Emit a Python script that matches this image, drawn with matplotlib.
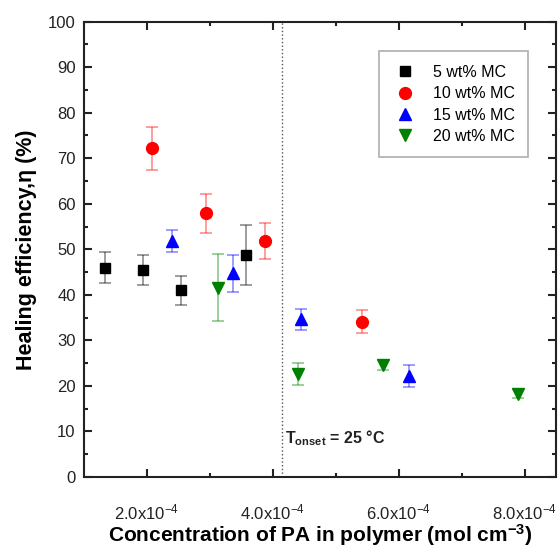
import matplotlib
matplotlib.use("Agg")
import matplotlib.pyplot as plt
from matplotlib.ticker import MultipleLocator, FixedLocator

plt.rcParams["font.family"] = ["Liberation Sans", "DejaVu Sans"]
plt.rcParams["mathtext.fontset"] = "custom"
plt.rcParams["mathtext.rm"] = "Liberation Sans"
plt.rcParams["mathtext.it"] = "Liberation Sans:italic"
plt.rcParams["mathtext.bf"] = "Liberation Sans:bold"

# data (concentration in mol cm^-3, healing efficiency in %)
x_5 = [1.33e-4, 1.94e-4, 2.54e-4, 3.57e-4]
y_5 = [46.0, 45.4, 41.0, 48.7]
e_5 = [3.5, 3.3, 3.2, 6.6]

x_10 = [2.08e-4, 2.94e-4, 3.87e-4, 5.41e-4]
y_10 = [72.2, 57.9, 51.8, 34.1]
e_10 = [4.7, 4.3, 3.9, 2.5]

x_15 = [2.40e-4, 3.37e-4, 4.44e-4, 6.17e-4]
y_15 = [51.8, 44.7, 34.6, 22.2]
e_15 = [2.5, 4.0, 2.4, 2.4]

x_20 = [3.13e-4, 4.40e-4, 5.75e-4, 7.90e-4]
y_20 = [41.6, 22.7, 24.6, 18.3]
e_20 = [7.4, 2.4, 1.0, 1.0]

t_onset = 4.14e-4
xtick_vals = [2e-4, 4e-4, 6e-4, 8e-4]
xtick_labels = [r"2.0x10$^{-4}$", r"4.0x10$^{-4}$", r"6.0x10$^{-4}$", r"8.0x10$^{-4}$"]

fig = plt.figure(figsize=(5.58, 5.49), dpi=100)
ax = fig.add_axes([0.1505, 0.1311, 0.846, 0.8296])

series = [
    (x_5, y_5, e_5, "s", "black", 7.5, "5 wt% MC"),
    (x_10, y_10, e_10, "o", "red", 8.5, "10 wt% MC"),
    (x_15, y_15, e_15, "^", "blue", 8.5, "15 wt% MC"),
    (x_20, y_20, e_20, "v", "green", 8.5, "20 wt% MC"),
]
for xs, ys, es, mk, col, ms, lab in series:
    ax.errorbar(xs, ys, yerr=es, fmt="none", ecolor=col, alpha=0.45,
                elinewidth=1.2, capsize=4, capthick=1.2)
    ax.plot(xs, ys, linestyle="none", marker=mk, color=col, markersize=ms, label=lab)

ax.axvline(t_onset, color="#555555", linestyle=":", linewidth=1.0)
ax.text(t_onset + 0.05e-4, 8.6, r"T$_{\mathbf{onset}}$ = 25 °C", fontsize=11.5,
        fontweight="bold", va="center", ha="left", color="#222222")

ax.set_xlim(1e-4, 8.5e-4)
ax.set_ylim(0, 100)
ax.xaxis.set_major_locator(FixedLocator(xtick_vals))
ax.set_xticklabels(xtick_labels)
ax.xaxis.set_minor_locator(FixedLocator([3e-4, 5e-4, 7e-4]))
ax.yaxis.set_major_locator(MultipleLocator(10))
ax.yaxis.set_minor_locator(MultipleLocator(5))

ax.tick_params(which="both", direction="in", top=True, right=True, width=1.5,
               labelsize=12, colors="#222222")
ax.tick_params(which="major", length=6)
ax.tick_params(which="minor", length=3)
ax.tick_params(axis="x", pad=18)
ax.tick_params(axis="y", pad=6)
for s in ax.spines.values():
    s.set_linewidth(1.5)
    s.set_color("#222222")

ax.set_xlabel(r"Concentration of PA in polymer (mol cm$^{\mathbf{-3}}$)", fontsize=15,
              fontweight="bold", va="baseline")
ax.xaxis.set_label_coords(0.5, -0.142)
ax.set_ylabel("Healing efficiency,η (%)", fontsize=15.5, fontweight="bold", labelpad=8)

leg = ax.legend(loc="upper left", bbox_to_anchor=(0.625, 0.935), fontsize=11.5,
                borderaxespad=0, frameon=True, fancybox=False, edgecolor="#999999",
                handletextpad=0.9, borderpad=0.85, labelspacing=0.4, handlelength=1.6)
leg.get_frame().set_linewidth(1.2)

fig.savefig("out.png", dpi=100)
